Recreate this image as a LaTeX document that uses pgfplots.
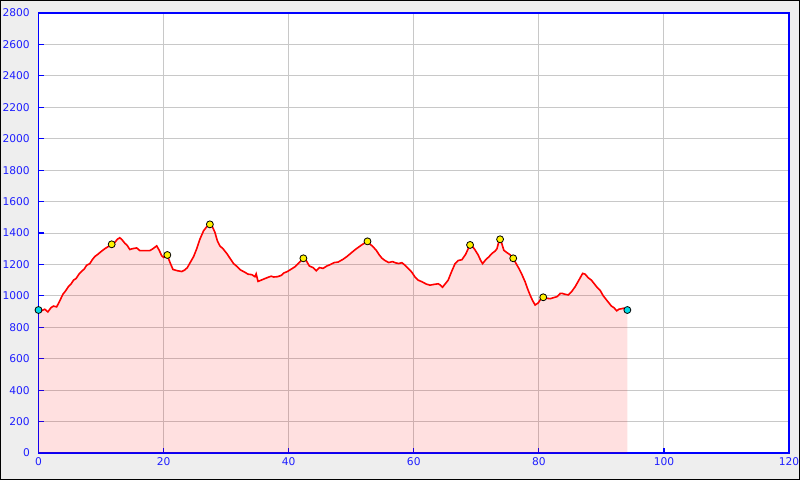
\documentclass[border=0pt]{standalone}
\usepackage{fontspec}
\setmainfont{DejaVu Sans}
\usepackage{pgfplots}
\usepackage{pgfplotstable}
\pgfplotsset{compat=1.18}
\definecolor{bgc}{RGB}{238,238,238}
\definecolor{gridc}{RGB}{200,200,200}
\definecolor{tickc}{RGB}{30,30,255}
\definecolor{cyanm}{RGB}{0,220,230}
\pgfplotstableread{
x y
0.0 910
0.5 905
1.0 915
1.5 898
2.0 925
2.4 935
2.9 930
3.3 960
3.9 1010
4.3 1030
4.8 1060
5.2 1075
5.6 1100
6.0 1110
6.5 1140
7.0 1160
7.3 1170
7.7 1195
8.2 1205
8.6 1230
9.0 1250
9.5 1265
10.1 1285
10.6 1300
11.2 1315
11.7 1328
12.2 1340
12.6 1360
13.0 1370
13.4 1355
13.8 1335
14.2 1320
14.6 1295
15.0 1300
15.7 1305
16.2 1288
17.0 1288
17.8 1288
18.3 1300
18.9 1318
19.3 1290
19.7 1255
20.0 1245
20.6 1258
21.0 1215
21.5 1168
22.2 1160
22.9 1155
23.4 1165
23.8 1180
24.3 1215
24.8 1250
25.3 1300
25.8 1360
26.4 1415
26.9 1440
27.4 1455
27.8 1440
28.2 1405
28.6 1350
29.0 1318
29.5 1300
30.1 1270
30.6 1240
31.2 1205
31.8 1185
32.3 1165
33.0 1150
33.5 1138
34.1 1135
34.6 1122
34.8 1140
35.1 1092
35.6 1100
36.2 1110
36.7 1118
37.2 1125
37.6 1120
38.2 1122
38.8 1130
39.2 1145
39.8 1155
40.4 1170
41.0 1185
41.5 1205
42.0 1225
42.35 1239
42.8 1225
43.3 1190
43.9 1180
44.4 1160
44.9 1180
45.5 1175
46.1 1190
46.7 1200
47.3 1212
47.9 1215
48.7 1233
49.3 1250
49.9 1270
50.5 1290
51.0 1305
51.6 1322
52.1 1335
52.6 1347
53.0 1330
53.5 1312
54.0 1290
54.5 1260
54.9 1240
55.4 1225
56.0 1212
56.6 1218
57.1 1210
57.6 1206
58.1 1211
58.6 1195
59.1 1175
59.7 1150
60.2 1120
60.7 1100
61.3 1090
62.0 1075
62.6 1068
63.1 1072
63.9 1077
64.2 1070
64.6 1055
65.0 1075
65.5 1100
66.0 1150
66.6 1205
67.1 1225
67.7 1230
68.3 1265
68.7 1300
69.0 1324
69.4 1315
69.8 1292
70.3 1260
70.7 1225
71.0 1205
71.5 1230
72.0 1248
72.5 1270
73.0 1285
73.3 1300
73.6 1345
73.8 1360
74.1 1330
74.4 1290
74.9 1275
75.4 1262
75.9 1239
76.3 1210
76.8 1175
77.3 1135
77.8 1090
78.2 1045
78.6 1005
79.0 970
79.4 942
79.9 955
80.3 980
80.7 991
81.2 985
81.8 982
82.3 988
82.9 995
83.4 1015
83.7 1016
84.2 1010
84.7 1006
85.2 1025
85.8 1058
86.4 1100
87.0 1143
87.4 1138
87.9 1115
88.4 1100
88.9 1075
89.3 1055
89.8 1035
90.3 1000
90.6 985
91.1 960
91.6 935
92.0 925
92.45 905
92.8 915
93.2 918
93.5 921
94.15 910
}\profile
\pgfplotstableread{
x y
11.7 1328
20.6 1260
27.4 1455
42.35 1239
52.6 1347
69.0 1324
73.8 1360
75.9 1239
80.7 991
}\peaks
\pgfplotstableread{
x y
0 910
94.15 910
}\ends
\begin{document}
\begin{tikzpicture}
\useasboundingbox (-28.875pt,-20.25pt) rectangle (571.125pt,339.75pt);
\fill[bgc] (-28.875pt,-20.25pt) rectangle (571.125pt,339.75pt);
\draw[black, line width=0.75pt] (-28.5pt,-19.875pt) rectangle (570.75pt,339.375pt);
\begin{axis}[
  at={(0,0)}, anchor=south west,
  scale only axis, width=562.9pt, height=330pt,
  xmin=0, xmax=120, ymin=0, ymax=2800,
  xtick={0,20,...,120}, ytick={0,200,...,2800},
  tick pos=left,
  grid=major,
  grid style={gridc, line width=0.75pt},
  axis line style={blue, line width=0.9pt},
  tick style={blue, line width=0.9pt},
  tick align=inside, major tick length=4pt,
  axis background/.style={fill=white},
  tick label style={font=\fontsize{8}{10}\selectfont, text=tickc},
  yticklabel style={xshift=-3pt},
  /pgf/number format/assume math mode=true,
  /pgf/number format/set thousands separator={},
  clip=false,
]
\addplot[draw=none, fill=red, fill opacity=0.12] table[x=x,y=y] {\profile} \closedcycle;
\addplot[red, line width=1.2pt, mark=none] table[x=x,y=y] {\profile};
\addplot[only marks, mark=*, mark size=2.6pt, mark options={fill=yellow, draw=black, line width=0.6pt}] table[x=x,y=y] {\peaks};
\addplot[only marks, mark=*, mark size=2.6pt, mark options={fill=cyanm, draw=black, line width=0.6pt}] table[x=x,y=y] {\ends};
\end{axis}
\end{tikzpicture}
\end{document}
